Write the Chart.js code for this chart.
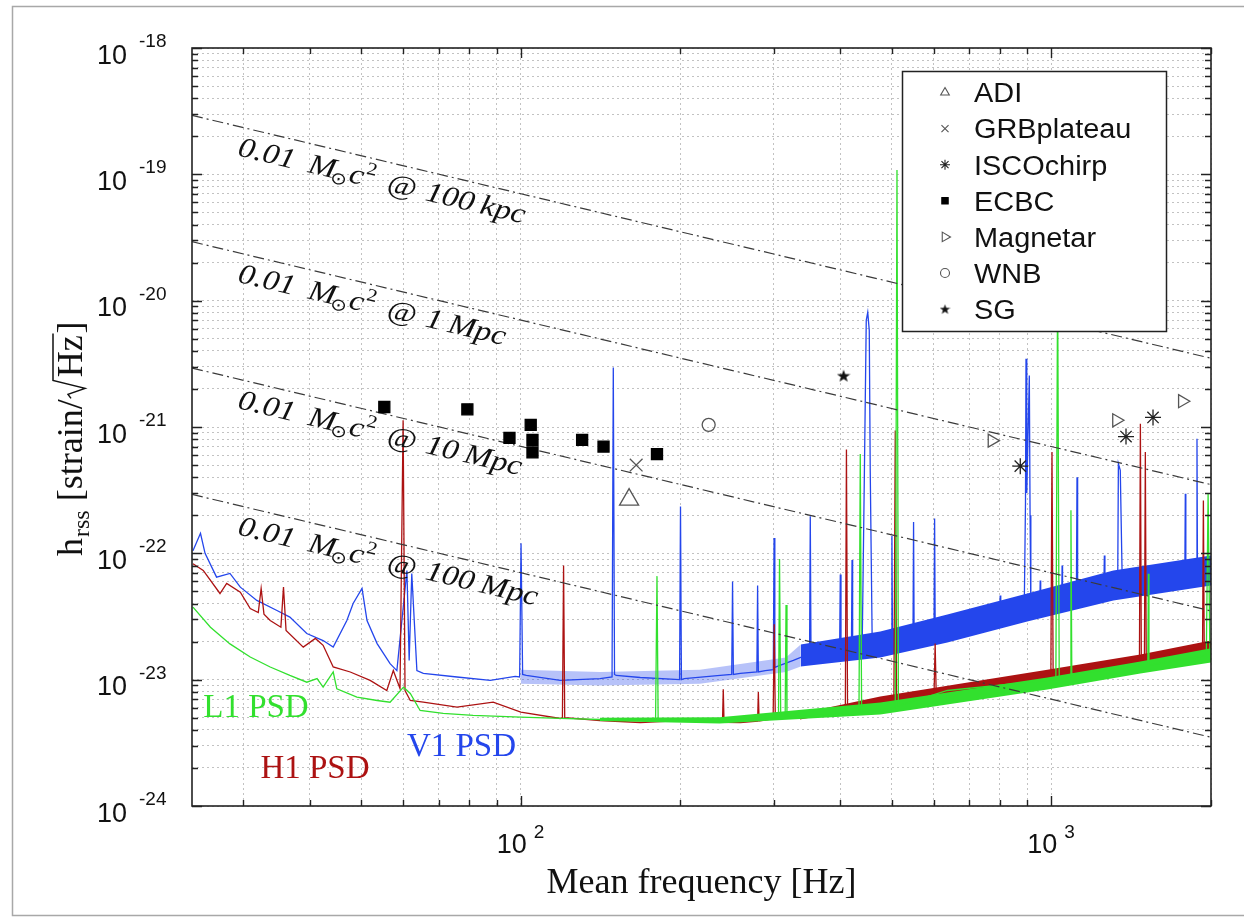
<!DOCTYPE html>
<html>
<head>
<meta charset="utf-8">
<script src="https://cdn.jsdelivr.net/npm/chart.js@4.4.1/dist/chart.umd.min.js"></script>
<style>
  html, body { margin: 0; padding: 0; background: #fff; }
  #wrap { position: relative; width: 1244px; height: 922px; }
</style>
</head>
<body>
<div id="wrap"><canvas id="chart" width="1244" height="922"></canvas></div>
<script>
// axis ranges and labelled ticks
const xRange = [24, 2000];
const yRange = [1e-24, 1e-18];
const xMajorTicks = [100, 1000];
const yMajorTicks = [1e-24, 1e-23, 1e-22, 1e-21, 1e-20, 1e-19, 1e-18];

// 0.01 Msun c^2 reference lines, strain read at both ends (24 Hz, 2000 Hz)
const energyFreq = [24, 2000];
const energyLeft = [2.93e-19, 2.93e-20, 2.93e-21, 2.93e-22];
const energyRight = [3.5e-21, 3.5e-22, 3.5e-23, 3.5e-24];
const energyDist = [['100', 'kpc'], ['1', 'Mpc'], ['10', 'Mpc'], ['100', 'Mpc']];
const labelFreq = 30;

// detector noise curves [Hz, strain/sqrt(Hz)]
const l1Psd = [
  [24.1, 3.75e-23], [26.0, 2.6e-23], [28.3, 1.92e-23], [30.9, 1.51e-23], [33.7, 1.26e-23],
  [36.7, 1.08e-23], [39.5, 9.55e-24], [41.3, 1.02e-23], [42.4, 8.72e-24], [44.3, 1.15e-23],
  [45.0, 8.47e-24], [49.1, 7.27e-24], [53.6, 6.84e-24], [56.7, 6.63e-24], [60.1, 8.72e-24],
  [61.9, 7.78e-24], [64.6, 5.7e-24], [71.4, 5.4e-24], [81.3, 5.21e-24], [100, 5.05e-24],
  [118.7, 4.93e-24], [141.1, 4.84e-24], [179.5, 4.9e-24], [180.6, 6.6e-23], [181.5, 4.9e-24],
  [237.6, 4.75e-24], [306, 5.0e-24], [307.4, 9.0e-23], [309, 5.0e-24], [315, 5.0e-24],
  [316.2, 3.9e-23], [317.5, 5.0e-24], [366.7, 5.21e-24], [434, 5.4e-24], [436.4, 6.1e-22],
  [439, 5.5e-24], [476, 5.7e-24], [508, 6.0e-24], [511.8, 1.08e-19], [515, 6.2e-24],
  [636.8, 8.21e-24], [981.8, 9.86e-24], [1020, 1.0e-23], [1027.8, 1.5e-20], [1035, 1.0e-23],
  [1085, 1.05e-23], [1089, 2.19e-22], [1093, 1.1e-23], [1472, 1.3e-23], [1520, 1.3e-23],
  [1524, 6.9e-23], [1528, 1.3e-23], [1951, 1.55e-23], [1960, 1.6e-23], [1975, 3.0e-22],
  [1990, 1.7e-23], [2000, 1.6e-23]
];
const h1Psd = [
  [24.1, 8.27e-23], [25.2, 7.32e-23], [27.1, 4.81e-23], [27.9, 5.78e-23], [29.6, 4.93e-23],
  [30.9, 3.66e-23], [32.0, 3.4e-23], [32.4, 5.27e-23], [32.8, 3.3e-23], [33.7, 2.94e-23],
  [35.3, 2.6e-23], [35.7, 5.4e-23], [36.1, 2.45e-23], [38.9, 1.81e-23], [41.0, 2.12e-23],
  [42.4, 1.87e-23], [44.3, 1.26e-23], [47.7, 1.15e-23], [52.0, 9.86e-24], [55.9, 8.21e-24],
  [57.5, 1.18e-23], [59.2, 8.52e-24], [60.0, 1.13e-21], [60.5, 8.21e-24], [61.9, 6.84e-24],
  [65.5, 6.63e-24], [75.8, 6.06e-24], [88.7, 6.63e-24], [100, 5.53e-24], [118.7, 4.93e-24],
  [119.8, 5.0e-24], [120.4, 8.0e-23], [121, 5.0e-24], [141, 4.75e-24], [168, 4.58e-24],
  [199.8, 4.75e-24], [240, 4.7e-24], [240.8, 8.4e-24], [241.6, 4.6e-24], [259.3, 4.58e-24],
  [279.5, 4.7e-24], [280.4, 8.0e-24], [281.3, 4.7e-24], [299, 4.9e-24], [300.4, 2.74e-23],
  [301.8, 5.0e-24], [336.6, 5.02e-24], [409, 5.3e-24], [411, 6.65e-22], [413, 5.4e-24],
  [417.8, 5.5e-24], [476, 6.84e-24], [505, 6.9e-24], [508, 9.4e-22], [511, 6.9e-24],
  [519, 6.84e-24], [601, 7.2e-24], [604, 1.93e-23], [607, 7.2e-24], [636.8, 7.78e-24],
  [801, 8.72e-24], [981.8, 1.05e-23], [998, 1.05e-23], [1003, 6.33e-22], [1008, 1.06e-23],
  [1040, 1.14e-23], [1237, 1.3e-23], [1466, 1.35e-23], [1472, 1.06e-21], [1478, 1.38e-23],
  [1498, 1.4e-23], [1504, 6.33e-22], [1510, 1.45e-23], [1537, 1.5e-23], [1910, 1.77e-23],
  [1928, 1.8e-23], [1935, 2.62e-22], [1942, 1.8e-23], [2000, 1.87e-23]
];
const v1Psd = [
  [24.1, 1.05e-22], [24.9, 1.44e-22], [25.4, 1.0e-22], [26.7, 6.48e-23], [28.3, 6.93e-23],
  [29.6, 5.4e-23], [31.8, 4.24e-23], [34.7, 3.53e-23], [36.7, 3.13e-23], [39.5, 2.32e-23],
  [42.4, 2.04e-23], [44.3, 1.81e-23], [47.0, 2.94e-23], [48.3, 4.01e-23], [50.2, 5.27e-23],
  [51.3, 2.94e-23], [53.6, 1.93e-23], [56.7, 1.34e-23], [58.4, 1.18e-23], [61.0, 7.32e-23],
  [61.6, 1.42e-23], [62.3, 6.93e-23], [63.7, 1.18e-23], [65.5, 1.12e-23], [75.8, 1.05e-23],
  [87.6, 9.86e-24], [97.6, 1.06e-23], [99.5, 1.05e-23], [100.1, 1.2e-22], [100.8, 1.1e-23],
  [102.4, 1.08e-23], [118.7, 9.86e-24], [141.1, 1.02e-23], [148.6, 1.05e-23], [149.4, 2.96e-21],
  [150.2, 1.1e-23], [151.3, 1.08e-23], [168, 1.04e-23], [199.2, 1.0e-23], [200, 2.35e-22],
  [200.8, 1.0e-23], [203.3, 1.02e-23], [237.6, 1.08e-23], [249.8, 1.1e-23], [250.7, 5.99e-23],
  [251.6, 1.1e-23], [259.3, 1.12e-23], [278.6, 1.15e-23], [279.5, 5.57e-23], [280.4, 1.15e-23],
  [288.9, 1.18e-23], [299.2, 1.2e-23], [300.2, 1.32e-22], [301.2, 1.25e-23], [308, 1.3e-23],
  [326.4, 1.42e-23], [350.2, 1.6e-23], [351.3, 1.97e-22], [352.4, 1.6e-23], [358.9, 1.64e-23],
  [399, 1.7e-23], [400.2, 6.81e-23], [401.4, 1.7e-23], [409.2, 1.7e-23], [420, 1.75e-23],
  [421.1, 8.85e-23], [422.2, 1.75e-23], [432.6, 1.77e-23], [440.2, 2.04e-23], [444.1, 3.78e-22],
  [447.9, 6.98e-21], [450.8, 8.08e-21], [453.8, 5.82e-21], [455.7, 4.53e-22], [459.7, 1.87e-23],
  [476, 1.9e-23], [499.3, 1.95e-23], [500.7, 1.37e-22], [502, 1.95e-23], [519, 2.04e-23],
  [548.6, 2.1e-23], [550, 1.77e-22], [551.4, 2.1e-23], [568, 2.2e-23], [601, 2.3e-23],
  [602.6, 1.89e-22], [604.2, 2.3e-23], [636.8, 2.54e-23], [737.5, 2.94e-23], [799, 3.0e-23],
  [801, 4.64e-23], [803, 3.0e-23], [836.9, 3.17e-23], [889, 3.4e-23], [894, 2.5e-22],
  [896, 3.47e-21], [899, 3.0e-22], [909, 2.56e-21], [912, 2.0e-22], [915, 3.5e-23],
  [951, 3.7e-23], [953, 6.1e-23], [955, 3.7e-23], [981.8, 3.75e-23], [1046, 4.0e-23],
  [1048, 8.02e-23], [1050, 4.0e-23], [1115, 4.3e-23], [1118, 4.01e-22], [1121, 4.4e-23],
  [1184, 4.9e-23], [1256, 5.2e-23], [1259, 9.63e-23], [1262, 5.2e-23], [1309, 5.57e-23],
  [1334, 5.6e-23], [1338, 5.12e-22], [1349, 4.53e-22], [1361, 5.57e-23], [1537, 6.1e-23],
  [1785, 6.2e-23], [1789, 2.96e-22], [1793, 6.3e-23], [1828, 6.33e-23], [1878, 6.5e-23],
  [1882, 8.08e-22], [1886, 6.6e-23], [1935, 7.06e-23], [2000, 7.32e-23]
];

// width of the dense noise bands [Hz, lower, upper]
const l1Band = [[141, 4.7e-24, 5.0e-24], [237, 4.5e-24, 5.05e-24], [476, 5.3e-24, 6.6e-24], [983, 8.36e-24, 1.04e-23], [1472, 1.12e-23, 1.39e-23], [2000, 1.37e-23, 1.77e-23]];
const h1Band = [[336, 4.84e-24, 5.4e-24], [476, 6.36e-24, 7.36e-24], [983, 1.0e-23, 1.2e-23], [1472, 1.32e-23, 1.58e-23], [2000, 1.7e-23, 2.04e-23]];
const v1Band = [
  [100, 9.3e-24, 1.2e-23], [141, 9.0e-24, 1.15e-23], [217.6, 9.3e-24, 1.2e-23], [316, 1.15e-23, 1.5e-23],
  [337, 1.27e-23, 1.9e-23], [476, 1.5e-23, 2.41e-23], [637, 1.97e-23, 3.28e-23], [901, 2.89e-23, 4.81e-23],
  [1309, 4.24e-23, 7.32e-23], [2000, 5.57e-23, 9.63e-23]
];

// search results [Hz, h_rss]
const adiPoints = [[160, 2.66e-22]];
const grbPoints = [[165, 5.0e-22]];
const iscoPoints = [[874, 4.9e-22], [1383, 8.4e-22], [1555, 1.19e-21]];
const ecbcPoints = [[55.3, 1.44e-21], [79.3, 1.38e-21], [95.2, 8.2e-22], [104.4, 1.04e-21], [105.2, 7.9e-22],
  [105.2, 6.3e-22], [130.5, 7.9e-22], [143.2, 7.0e-22], [180.6, 6.1e-22]];
const magnetarPoints = [[773, 7.8e-22], [1327, 1.13e-21], [1766, 1.6e-21]];
const wnbPoints = [[226, 1.04e-21]];
const sgPoints = [[406, 2.55e-21]];

const psdLabels = [['L1 PSD', 25.2, 5.02e-24], ['H1 PSD', 32.3, 1.68e-24], ['V1 PSD', 61.0, 2.51e-24]];

const COL = { l1: 'rgb(50, 224, 46)', h1: 'rgb(172, 18, 18)', v1: 'rgb(36, 70, 236)' };
const GRAY = '#555';
const INK = '#111';

function starImage(size) {
  const c = document.createElement('canvas');
  c.width = c.height = size;
  const g = c.getContext('2d');
  g.fillStyle = INK;
  g.beginPath();
  for (let i = 0; i < 10; i++) {
    const r = i % 2 ? size * 0.2 : size * 0.5;
    const a = -Math.PI / 2 + i * Math.PI / 5;
    g.lineTo(size / 2 + r * Math.cos(a), size / 2 + r * 0.95 * Math.sin(a) + size * 0.04);
  }
  g.closePath();
  g.fill();
  return c;
}

const toXY = (pairs, i = 1) => pairs.map((p) => ({ x: p[0], y: p[i] }));

function psdLine(pairs, color, order) {
  return { data: toXY(pairs), showLine: true, borderColor: color, borderWidth: 1.3, pointRadius: 0, fill: false, order };
}

function bandSets(band, color, order, lightColor) {
  const lower = { data: toXY(band, 1), showLine: true, borderColor: 'rgba(0,0,0,0)', borderWidth: 1, pointRadius: 0, fill: false, order };
  const upper = { data: toXY(band, 2), showLine: true, borderColor: 'rgba(0,0,0,0)', borderWidth: 1, pointRadius: 0, fill: '-1', backgroundColor: color, order };
  if (lightColor) upper.segment = { backgroundColor: (c) => (c.p0.parsed.x < 320 ? lightColor : color) };
  return [lower, upper];
}

const markers = [
  { label: 'ADI', pts: adiPoints, style: 'triangle', r: 11, rot: 0, fill: 'rgba(0,0,0,0)', stroke: GRAY, lr: 5 },
  { label: 'GRBplateau', pts: grbPoints, style: 'crossRot', r: 9, rot: 0, fill: 'rgba(0,0,0,0)', stroke: GRAY, lr: 5 },
  { label: 'ISCOchirp', pts: iscoPoints, style: 'star', r: 8, rot: 0, fill: 'rgba(0,0,0,0)', stroke: '#222', lr: 5 },
  { label: 'ECBC', pts: ecbcPoints, style: 'rect', r: 7.8, rot: 0, fill: '#000', stroke: '#000', lr: 4.5 },
  { label: 'Magnetar', pts: magnetarPoints, style: 'triangle', r: 7.5, rot: 90, fill: 'rgba(0,0,0,0)', stroke: GRAY, lr: 5.5 },
  { label: 'WNB', pts: wnbPoints, style: 'circle', r: 6.5, rot: 0, fill: 'rgba(0,0,0,0)', stroke: GRAY, lr: 4.5 },
  { label: 'SG', pts: sgPoints, style: starImage(14), r: 7, rot: 0, fill: INK, stroke: INK, lr: 5, legendStyle: starImage(11) }
];

const datasets = [];
markers.forEach((m) => datasets.push({
  label: m.label, data: toXY(m.pts), pointStyle: m.style, pointRadius: m.r, pointRotation: m.rot,
  pointBackgroundColor: m.fill, pointBorderColor: m.stroke, pointBorderWidth: 1.3, showLine: false, order: 0
}));
energyLeft.forEach((hl, i) => datasets.push({
  data: [{ x: energyFreq[0], y: hl }, { x: energyFreq[1], y: energyRight[i] }],
  showLine: true, borderColor: '#3a3a3a', borderWidth: 1.2, borderDash: [11, 4, 2, 4], pointRadius: 0, fill: false, order: 1
}));
datasets.push(psdLine(l1Psd, COL.l1, 2), ...bandSets(l1Band, COL.l1, 3));
datasets.push(psdLine(h1Psd, COL.h1, 4), ...bandSets(h1Band, COL.h1, 5));
// blue band drawn over its own line so the trace does not show through
datasets.push(psdLine(v1Psd, COL.v1, 7), ...bandSets(v1Band, COL.v1, 6, 'rgba(36, 70, 236, 0.33)'));

function logTicks(min, max) {
  const out = [];
  for (let e = Math.floor(Math.log10(min)); e <= Math.ceil(Math.log10(max)); e++) {
    for (let m = 1; m <= 9; m++) {
      const v = m * Math.pow(10, e);
      if (v >= min * 0.999 && v <= max * 1.001) out.push(v);
    }
  }
  return out;
}

const gridOpts = { color: '#c2c2c2', lineWidth: 1, drawTicks: false };

const axesPlugin = {
  id: 'axesDeco',
  afterDatasetsDraw(chart) {
    const { ctx, chartArea: a, scales: { x, y } } = chart;
    ctx.save();
    ctx.strokeStyle = '#222';
    ctx.lineWidth = 1.4;
    ctx.beginPath();
    logTicks(xRange[0], xRange[1]).forEach((v) => {
      const px = Math.round(x.getPixelForValue(v)) + 0.5;
      const len = xMajorTicks.includes(v) ? 10 : 6;
      ctx.moveTo(px, a.bottom); ctx.lineTo(px, a.bottom - len);
      ctx.moveTo(px, a.top); ctx.lineTo(px, a.top + len);
    });
    logTicks(yRange[0], yRange[1]).forEach((v) => {
      const py = Math.round(y.getPixelForValue(v)) + 0.5;
      const major = yMajorTicks.some((t) => Math.abs(t - v) / t < 1e-6);
      const len = major ? 10 : 6;
      ctx.moveTo(a.left, py); ctx.lineTo(a.left + len, py);
      ctx.moveTo(a.right, py); ctx.lineTo(a.right - len, py);
    });
    ctx.stroke();
    ctx.lineWidth = 1.6;
    ctx.strokeRect(a.left, a.top, a.right - a.left, a.bottom - a.top);
    ctx.restore();
  },
  afterDraw(chart) {
    const { ctx, chartArea: a, scales: { x, y } } = chart;
    ctx.save();
    ctx.fillStyle = INK;
    ctx.textBaseline = 'alphabetic';
    // y tick labels
    yMajorTicks.forEach((v) => {
      const py = y.getPixelForValue(v);
      ctx.textAlign = 'left';
      ctx.font = '27px "Liberation Sans", Arial, sans-serif';
      ctx.fillText('10', 97, py + 15.5);
      ctx.font = '19px "Liberation Sans", Arial, sans-serif';
      ctx.fillText(String(Math.round(Math.log10(v))), 139, py - 1);
    });
    // x tick labels
    xMajorTicks.forEach((v) => {
      const px = x.getPixelForValue(v);
      ctx.textAlign = 'right';
      ctx.font = '27px "Liberation Sans", Arial, sans-serif';
      ctx.fillText('10', px + 6, 853);
      ctx.textAlign = 'left';
      ctx.font = '19px "Liberation Sans", Arial, sans-serif';
      ctx.fillText(String(Math.round(Math.log10(v))), px + 13, 838);
    });
    // x title
    ctx.textAlign = 'center';
    ctx.font = '36px "Liberation Serif", serif';
    ctx.fillText('Mean frequency [Hz]', (a.left + a.right) / 2, 893);
    // y title
    ctx.save();
    ctx.translate(82, 425);
    ctx.rotate(-Math.PI / 2);
    ctx.textAlign = 'left';
    let t = -131;
    ctx.font = '36px "Liberation Serif", serif';
    ctx.fillText('h', t, 0); t += ctx.measureText('h').width;
    ctx.font = '24px "Liberation Serif", serif';
    ctx.fillText('rss', t + 1, 7); t += ctx.measureText('rss').width + 1;
    ctx.font = '36px "Liberation Serif", serif';
    ctx.fillText(' [strain/', t, 0); t += ctx.measureText(' [strain/').width;
    const hzW = ctx.measureText('Hz').width;
    ctx.strokeStyle = INK;
    ctx.lineWidth = 1.5;
    ctx.beginPath();
    ctx.moveTo(t + 1, -11); ctx.lineTo(t + 5, -14); ctx.lineTo(t + 11, 3); ctx.lineTo(t + 19, -29);
    ctx.lineTo(t + 22 + hzW + 2, -29);
    ctx.stroke();
    ctx.fillText('Hz', t + 22, 0); t += 22 + hzW + 2;
    ctx.fillText(']', t, 0);
    ctx.restore();
    // outer frame of the figure
    ctx.strokeStyle = '#a8a8a8';
    ctx.lineWidth = 1.5;
    ctx.beginPath();
    ctx.moveTo(1244, 6.5); ctx.lineTo(12.5, 6.5); ctx.lineTo(12.5, 915.5); ctx.lineTo(1244, 915.5);
    ctx.stroke();
    ctx.restore();
  }
};

const labelPlugin = {
  id: 'lineLabels',
  afterDatasetsDraw(chart) {
    const { ctx, scales: { x, y } } = chart;
    ctx.save();
    ctx.fillStyle = INK;
    ctx.textAlign = 'left';
    ctx.textBaseline = 'alphabetic';
    const it = 'italic 30px "Liberation Serif", serif';
    const put = (txt, font, pos, dy) => { ctx.font = font; ctx.fillText(txt, pos, dy); return pos + ctx.measureText(txt).width; };
    energyLeft.forEach((hl, i) => {
      const x0 = x.getPixelForValue(energyFreq[0]), y0 = y.getPixelForValue(hl);
      const x1 = x.getPixelForValue(energyFreq[1]), y1 = y.getPixelForValue(energyRight[i]);
      const ang = Math.atan2(y1 - y0, x1 - x0);
      const s = (x.getPixelForValue(labelFreq) - x0) / (x1 - x0);
      ctx.save();
      ctx.translate(x0 + s * (x1 - x0), y0 + s * (y1 - y0));
      ctx.rotate(ang);
      ctx.scale(1.1, 0.95);
      const b = 30;
      let t = put('0.01', it, 0, b);
      t = put('M', it, t + 13, b);
      t = put('\u2299', '18px "DejaVu Sans", sans-serif', t - 3, b + 5);
      t = put('c', it, t + 1, b);
      t = put('2', '19px "Liberation Serif", serif', t + 1, b - 13);
      t = put('@', '29px "Liberation Serif", serif', t + 12, b);
      const [num, unit] = energyDist[i];
      t = put(num, it, t + 9, b);
      put(unit, it, t + 6, b);
      ctx.restore();
    });
    // detector labels
    ctx.font = '33px "Liberation Serif", serif';
    psdLabels.forEach(([txt, f, h], i) => {
      ctx.fillStyle = [COL.l1, COL.h1, COL.v1][i];
      ctx.fillText(txt, x.getPixelForValue(f), y.getPixelForValue(h));
    });
    ctx.restore();
  }
};

const legendPlugin = {
  id: 'boxLegend',
  afterDraw(chart) {
    const { ctx } = chart;
    const box = { left: 902, top: 71, w: 264, h: 260 };
    ctx.save();
    ctx.fillStyle = '#fff';
    ctx.fillRect(box.left, box.top, box.w, box.h);
    ctx.strokeStyle = '#222';
    ctx.lineWidth = 1.5;
    ctx.strokeRect(box.left + 0.5, box.top + 0.5, box.w, box.h);
    ctx.font = '27px "Liberation Sans", Arial, sans-serif';
    ctx.textAlign = 'left';
    ctx.textBaseline = 'alphabetic';
    markers.forEach((m, i) => {
      const cy = 92.5 + i * 36.1;
      ctx.save();
      ctx.fillStyle = m.fill;
      ctx.strokeStyle = m.stroke;
      ctx.lineWidth = 1.1;
      Chart.helpers.drawPoint(ctx, { pointStyle: m.legendStyle || m.style, rotation: m.rot, radius: m.lr, borderWidth: 1.1 }, 945, cy);
      ctx.restore();
      ctx.save();
      ctx.fillStyle = INK;
      ctx.translate(974, cy + 9.8);
      ctx.scale(1.07, 1);
      ctx.fillText(m.label, 0, 0);
      ctx.restore();
    });
    ctx.restore();
  }
};

new Chart(document.getElementById('chart'), {
  type: 'scatter',
  data: { datasets },
  options: {
    responsive: false,
    animation: false,
    layout: { padding: { left: 192, top: 48, right: 33, bottom: 116 } },
    plugins: { legend: { display: false }, tooltip: { enabled: false } },
    scales: {
      x: {
        type: 'logarithmic', min: xRange[0], max: xRange[1],
        afterBuildTicks: (s) => { s.ticks = logTicks(xRange[0], xRange[1]).map((v) => ({ value: v })); },
        ticks: { display: false }, grid: gridOpts, border: { display: false, dash: [2, 3] }
      },
      y: {
        type: 'logarithmic', min: yRange[0], max: yRange[1],
        afterBuildTicks: (s) => { s.ticks = logTicks(yRange[0], yRange[1]).map((v) => ({ value: v })); },
        ticks: { display: false }, grid: gridOpts, border: { display: false, dash: [2, 3] }
      }
    }
  },
  plugins: [labelPlugin, axesPlugin, legendPlugin]
});
</script>
</body>
</html>
